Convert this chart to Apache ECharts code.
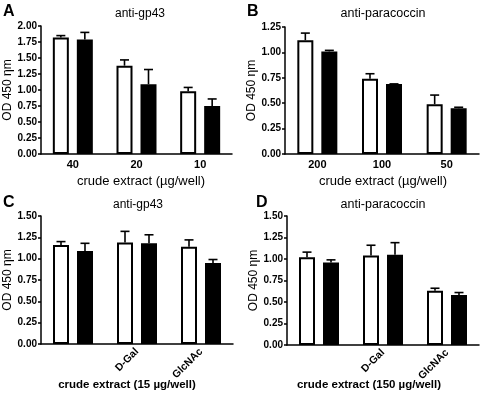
<!DOCTYPE html>
<html><head><meta charset="utf-8">
<script src="https://cdn.jsdelivr.net/npm/echarts@6/dist/echarts.min.js"></script>
<style>html,body{margin:0;padding:0;background:#fff}#c{width:484px;height:401px}</style>
</head><body><div id="c"></div>
<script>
// Panel A
const catsA = ['40', '20', '10'];
const whiteA = [1.82, 1.38, 0.98];
const whiteErrA = [1.85, 1.47, 1.04];
const blackA = [1.79, 1.09, 0.75];
const blackErrA = [1.90, 1.32, 0.86];
const yTicksA = [0, 2.0, 0.25];
// Panel B
const catsB = ['200', '100', '50'];
const whiteB = [1.12, 0.74, 0.49];
const whiteErrB = [1.19, 0.79, 0.58];
const blackB = [1.01, 0.69, 0.45];
const blackErrB = [1.02, 0.69, 0.46];
const yTicksB = [0, 1.25, 0.25];
// Panel C
const catsC = ['', 'D-Gal', 'GlcNAc'];
const whiteC = [1.16, 1.19, 1.14];
const whiteErrC = [1.20, 1.32, 1.22];
const blackC = [1.09, 1.18, 0.95];
const blackErrC = [1.18, 1.28, 0.99];
const yTicksC = [0, 1.5, 0.25];
// Panel D
const catsD = ['', 'D-Gal', 'GlcNAc'];
const whiteD = [1.02, 1.04, 0.63];
const whiteErrD = [1.08, 1.16, 0.66];
const blackD = [0.96, 1.05, 0.58];
const blackErrD = [0.99, 1.19, 0.61];
const yTicksD = [0, 1.5, 0.25];

const FONT = 'Liberation Sans, Arial, sans-serif';
const chart = echarts.init(document.getElementById('c'));

const grids = [
  {left: 41, top: 26, width: 191, height: 128},
  {left: 285, top: 27, width: 194, height: 127},
  {left: 41, top: 216, width: 192, height: 128},
  {left: 287, top: 216, width: 192, height: 129}
];
const panels = [
  {cats: catsA, w: whiteA, we: whiteErrA, b: blackA, be: blackErrA, y: yTicksA, rot: 0},
  {cats: catsB, w: whiteB, we: whiteErrB, b: blackB, be: blackErrB, y: yTicksB, rot: 0},
  {cats: catsC, w: whiteC, we: whiteErrC, b: blackC, be: blackErrC, y: yTicksC, rot: 45},
  {cats: catsD, w: whiteD, we: whiteErrD, b: blackD, be: blackErrD, y: yTicksD, rot: 45}
];

function errRender(offset) {
  return function (params, api) {
    const i = api.value(0), v = api.value(1), e = api.value(2);
    const p0 = api.coord([i, v]);
    const p1 = api.coord([i, e]);
    const x = p0[0] + offset;
    return {type: 'group', children: [
      {type: 'line', shape: {x1: x, y1: p0[1], x2: x, y2: p1[1]}, style: {stroke: '#000', lineWidth: 1.6}},
      {type: 'line', shape: {x1: x - 4.5, y1: p1[1], x2: x + 4.5, y2: p1[1]}, style: {stroke: '#000', lineWidth: 1.6}}
    ]};
  };
}

const xAxes = [], yAxes = [], series = [];
panels.forEach((p, k) => {
  xAxes.push({
    type: 'category', gridIndex: k, data: p.cats,
    axisLine: {lineStyle: {color: '#000', width: 1.5}},
    axisTick: {alignWithLabel: true, length: 4, lineStyle: {color: '#000', width: 1.5}},
    axisLabel: {color: '#000', fontFamily: FONT, fontWeight: 'bold', fontSize: p.rot ? 10.5 : 11, rotate: p.rot, margin: p.rot ? 6 : 5, interval: 0}
  });
  yAxes.push({
    type: 'value', gridIndex: k, min: p.y[0], max: p.y[1], interval: p.y[2],
    name: 'OD 450 ηm', nameLocation: 'middle', nameGap: 25,
    nameTextStyle: {color: '#000', fontFamily: FONT, fontSize: 12},
    splitLine: {show: false},
    axisLine: {show: true, lineStyle: {color: '#000', width: 1.5}},
    axisTick: {show: true, length: 3, lineStyle: {color: '#000', width: 1.5}},
    axisLabel: {color: '#000', fontFamily: FONT, fontWeight: 'bold', fontSize: 10, margin: 4,
      formatter: v => v.toFixed(2)}
  });
  series.push({
    type: 'bar', xAxisIndex: k, yAxisIndex: k, data: p.w, barWidth: 16, barGap: '50%',
    itemStyle: {color: '#fff', borderColor: '#000', borderWidth: 2}, z: 2
  });
  series.push({
    type: 'bar', xAxisIndex: k, yAxisIndex: k, data: p.b, barWidth: 16, barGap: '50%',
    itemStyle: {color: '#000', borderColor: '#000', borderWidth: 2}, z: 2
  });
  series.push({
    type: 'custom', xAxisIndex: k, yAxisIndex: k, z: 3,
    renderItem: errRender(-12),
    data: p.w.map((v, i) => [i, v, p.we[i]])
  });
  series.push({
    type: 'custom', xAxisIndex: k, yAxisIndex: k, z: 3,
    renderItem: errRender(12),
    data: p.b.map((v, i) => [i, v, p.be[i]])
  });
});

function txt(x, y, s, size, bold, align) {
  return {type: 'text', x: x, y: y, style: {text: s, fill: '#000', font: (bold ? 'bold ' : '') + size + 'px ' + FONT, textAlign: align || 'center', textVerticalAlign: 'middle'}};
}

chart.setOption({
  animation: false,
  grid: grids,
  xAxis: xAxes,
  yAxis: yAxes,
  series: series,
  graphic: [
    txt(3, 12, 'A', 16, true, 'left'),
    txt(247, 12, 'B', 16, true, 'left'),
    txt(3, 203, 'C', 16, true, 'left'),
    txt(256, 203, 'D', 16, true, 'left'),
    txt(140, 14, 'anti-gp43', 12, false),
    txt(383, 14, 'anti-paracoccin', 12.5, false),
    txt(138, 205, 'anti-gp43', 12, false),
    txt(383, 205, 'anti-paracoccin', 12.5, false),
    txt(141, 181, 'crude extract (µg/well)', 13, false),
    txt(383, 181, 'crude extract (µg/well)', 13, false),
    txt(127, 385, 'crude extract (15 µg/well)', 11.5, true),
    txt(369, 385, 'crude extract (150 µg/well)', 11.5, true)
  ]
});
</script></body></html>
